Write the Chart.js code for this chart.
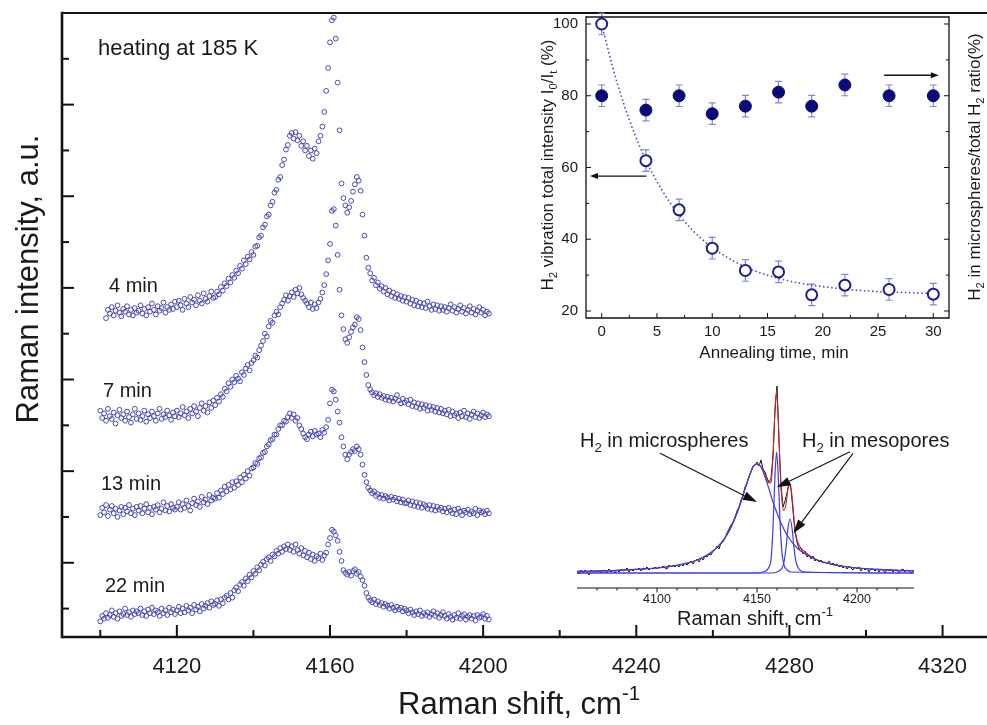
<!DOCTYPE html>
<html>
<head>
<meta charset="utf-8">
<script src="https://cdn.jsdelivr.net/npm/chart.js@4/dist/chart.umd.min.js"></script>
<style>
  html, body { margin: 0; padding: 0; background: #fff; overflow: hidden; }
  #wrap { position: relative; width: 987px; height: 725px; overflow: hidden; background: #fff; }
  canvas { position: absolute; }
  #main { left: 0; top: 0; width: 1010px; height: 725px; }
  #kin  { left: 500px; top: 0; width: 500px; height: 370px; }
  #fit  { left: 560px; top: 370px; width: 440px; height: 265px; }
</style>
</head>
<body>
<div id="wrap">
  <canvas id="main" width="1010" height="725"></canvas>
  <canvas id="kin" width="500" height="370"></canvas>
  <canvas id="fit" width="440" height="265"></canvas>
</div>
<script>
// ---------- Raman spectra recorded while heating at 185 K ----------
// sampled every 0.5 cm-1 starting at 4100 cm-1 (intensity in a.u., stacked)
const shiftStart = 4100;
const shiftStep = 0.5;

const spec4min = [
  null,null,null,267,276,272,279,270,275,281,273,269,277,274,280,271,276,270,278,273,
  275,281,272,277,270,279,274,283,276,271,280,275,278,284,273,279,276,282,277,285,
  279,286,281,276,288,283,279,290,284,287,281,292,286,283,294,288,285,291,296,289,
  290,296,293,301,297,305,302,310,306,314,311,319,316,324,321,330,326,334,331,339,
  336,345,346,355,357,366,369,378,380,390,394,404,407,418,421,434,440,451,456,466,
  469,463,470,461,466,455,460,450,455,444,450,441,452,447,460,466,476,492,515,540,
  568,592,595,572,524,472,414,398,390,382,388,395,405,413,421,417,406,380,357,333,
  322,316,308,311,303,306,299,302,296,300,293,297,291,295,289,293,288,291,286,290,
  285,289,283,287,281,286,280,284,279,283,278,285,280,276,282,277,281,275,280,276,
  279,274,278,282,275,279,273,277,281,274,278,272,276,280,273,277,271,275,279,273,
  276,270,274,272
];
const spec7min = [
  166,158,163,155,168,160,157,164,152,161,167,158,162,155,165,159,153,162,168,157,
  163,156,160,166,154,162,158,165,160,155,163,168,157,162,159,166,161,156,164,160,
  166,159,163,170,161,165,158,168,163,171,165,160,169,174,166,171,164,175,169,177,
  172,180,176,184,181,190,187,196,192,200,197,204,201,198,208,205,212,216,210,218,
  221,226,224,232,237,242,250,247,258,264,262,270,274,271,279,283,287,292,286,291,
  295,290,298,294,300,293,289,286,283,279,284,277,282,278,284,288,295,303,315,330,
  348,384,386,368,336,298,270,255,244,240,246,252,257,260,268,266,254,235,219,205,
  194,189,186,183,185,181,184,180,182,178,181,177,180,176,179,183,177,174,179,175,
  177,173,178,171,175,170,174,168,173,169,172,166,171,167,170,165,169,164,168,163,
  166,162,167,160,165,161,163,158,164,160,166,159,163,157,162,165,159,163,158,161,
  164,159,162,160
];
const spec13min = [
  52,60,55,63,51,58,62,54,59,50,57,61,53,60,56,63,54,59,52,61,
  57,62,54,59,64,55,60,53,61,58,63,55,59,66,57,62,56,64,60,58,
  61,66,58,64,60,68,62,57,65,70,63,67,61,72,66,69,64,74,68,71,
  70,76,71,79,75,83,78,85,80,88,82,89,85,93,88,96,92,100,95,103,
  104,109,108,114,115,120,121,127,129,134,135,140,140,146,150,150,155,154,159,163,
  158,162,155,158,150,146,141,137,135,140,143,138,144,140,141,137,145,142,148,156,
  174,189,187,178,165,153,137,127,118,113,118,121,124,122,127,124,118,107,96,88,
  82,79,76,78,73,75,71,74,70,73,71,68,72,69,71,67,70,66,69,65,
  65,68,63,67,62,66,61,65,60,64,62,59,63,58,62,57,61,58,60,56,
  59,55,60,57,54,58,53,59,56,52,57,55,58,53,56,54,59,52,57,55,
  56,53,57,54
];
const spec22min = [
  -64,-58,-61,-55,-60,-57,-52,-59,-55,-61,-53,-58,-56,-50,-57,-54,-59,-52,-56,-53,
  -55,-50,-57,-53,-58,-51,-55,-49,-56,-52,-54,-58,-50,-55,-52,-57,-49,-54,-51,-56,
  -52,-48,-55,-50,-54,-47,-52,-49,-55,-46,-51,-48,-53,-45,-50,-47,-44,-49,-42,-46,
  -45,-41,-47,-40,-44,-38,-36,-40,-33,-38,-30,-27,-31,-24,-21,-25,-17,-20,-13,-16,
  -9,-12,-5,-8,-2,1,-3,4,6,2,9,7,13,10,16,12,18,15,20,14,
  18,12,20,14,10,16,8,13,6,11,4,9,2,7,5,10,3,8,11,20,
  27,36,34,30,24,12,2,-8,-11,-13,-10,-14,-9,-7,-12,-10,-15,-19,-25,-33,
  -38,-41,-43,-40,-45,-42,-46,-44,-48,-45,-47,-50,-46,-49,-52,-48,-51,-49,-53,-50,
  -52,-55,-51,-54,-57,-53,-56,-52,-58,-55,-57,-54,-59,-56,-53,-58,-55,-60,-57,-54,
  -58,-61,-56,-59,-62,-57,-60,-55,-61,-58,-56,-62,-59,-57,-61,-58,-63,-57,-60,-59,
  -56,-61,-58,-62
];
const mainXLabels = [4120, 4160, 4200, 4240, 4280, 4320];
const mainXMinor = [4100, 4140, 4180, 4220, 4260, 4300];
const mainYMajor = [0, 100, 200, 300, 400, 500];
const mainYMinor = [-50, 50, 150, 250, 350, 450, 550];

// ---------- annealing kinetics ----------
const annealTime = [0, 4, 7, 10, 13, 16, 19, 22, 26, 30];
const totalIntensityPct = [100, 61.9, 48.2, 37.5, 31.3, 30.9, 24.5, 27.2, 26.0, 24.7];
const totalIntensityErr = [3, 3, 3, 3, 3, 3, 3, 3, 3, 3];
const microRatioPct = [80, 76, 80, 75, 77.1, 81, 77.1, 83, 80, 80];
const microRatioErr = [3, 3, 3, 3, 3, 3, 3, 3, 3, 3];
const decayFitTime = [0, 1, 2, 3, 4, 5, 6, 7, 8, 9, 10, 12, 14, 16, 18, 20, 22, 24, 26, 28, 30];
const decayFitPct = [100, 87.9, 77.7, 69.2, 62.0, 56.1, 51.0, 46.8, 43.2, 40.2, 37.7, 33.8, 31.0, 29.1, 27.7, 26.8, 26.1, 25.6, 25.3, 25.1, 24.9];
const kinXLabels = [0, 5, 10, 15, 20, 25, 30];
const kinXMinor = [2.5, 7.5, 12.5, 17.5, 22.5, 27.5];
const kinYLabels = [20, 40, 60, 80, 100];
const kinYMinor = [30, 50, 70, 90];

// ---------- deconvoluted spectrum ----------
const fitShiftStart = 4060;   // measured trace, 1 cm-1 step
const measured = [
  2,-1,3,0,3,1,-2,3,1,2,
  1,3,0,3,2,0,4,1,3,0,
  3,1,4,2,3,5,1,4,2,4,
  3,5,2,5,4,6,3,5,4,6,
  4,6,5,7,5,4,8,6,8,6,
  8,6,9,7,10,8,10,12,9,12,
  14,11,15,13,17,16,19,18,22,23,
  27,24,30,31,35,40,44,48,51,56,
  62,66,73,77,86,90,97,101,107,108,
  111,107,113,104,101,95,91,94,118,162,
  187,132,88,66,72,80,91,84,62,41,
  31,24,25,19,22,16,18,14,17,12,
  14,11,13,10,11,9,12,8,10,8,
  9,6,8,5,7,4,7,5,3,6,
  4,6,2,5,3,5,1,4,4,2,
  4,1,4,3,0,4,2,4,1,3,
  3,0,3,4,1,3,2,0,2
];
const broadShift = [4060,4070,4080,4090,4100,4110,4115,4120,4125,4130,4135,4138,4140,4142,4144,4146,4148,4150,4152,4154,4156,4158,4160,4162,4165,4170,4175,4180,4190,4200,4210,4220,4228.5];
const broadBand  = [1.6,2.0,2.6,3.6,5.0,7.7,9.8,13.0,17.6,25.4,38.2,50,60,71,84,96,106,109,106,96,84,71,60,50,38,25,18,13,7.7,5.0,3.6,2.6,2.1];
const narrowAShift = [4060,4150,4153,4155,4156,4157,4158,4159,4159.8,4160.6,4161.5,4162.5,4163.5,4165,4167,4228.5];
const narrowABand  = [0,0,1,3,6,13,45,98,121,98,52,20,8,3,1,0];
const narrowBShift = [4060,4158,4161,4162.5,4163.5,4164.5,4165.5,4166.5,4167.5,4168.5,4169.5,4171,4174,4228.5];
const narrowBBand  = [0,0,2,5,11,25,45,54,45,25,11,4,1,0];
const envelopeShift = [4060,4070,4080,4090,4100,4110,4120,4130,4135,4140,4144,4148,4150,4152,4154,4155,4156,4157,4158,4159,4159.8,4160.6,4161.5,4162.5,4163.5,4164.5,4165.5,4166.5,4167.5,4168.5,4169.5,4171,4174,4180,4190,4200,4210,4220,4228.5];
const envelope = [1.6,2.0,2.6,3.6,5.0,7.7,13,25.4,38.2,60,84,106,109,106.5,98,93,90,90.5,116,164,182,156,106,72,62.5,69,84,89.5,77.4,54.5,38,28,21,13,7.7,5.0,3.6,2.6,2.1];
const fitXLabels = [4100, 4150, 4200];
const fitXMinor = [4070,4080,4090,4110,4120,4130,4140,4160,4170,4180,4190,4210,4220];

// ---------- helpers ----------
const FONT = '"Liberation Sans", Arial, Helvetica, sans-serif';
Chart.defaults.font.family = FONT;
Chart.defaults.color = '#1a1a1a';
Chart.defaults.animation = false;

function series(values, start, step) {
  const pts = [];
  values.forEach((v, i) => { if (v !== null) pts.push({ x: start + i * step, y: v }); });
  return pts;
}
function pairs(xs, ys) { return xs.map((x, i) => ({ x, y: ys[i] })); }
function fixedTicks(values) { return s => { s.ticks = values.map(v => ({ value: v })); }; }

// text with sub/superscripts: segs are strings or [text, 'sub'|'sup']
function drawRich(ctx, it) {
  ctx.save();
  ctx.translate(it.x, it.y);
  if (it.rotate) ctx.rotate(it.rotate);
  ctx.fillStyle = it.color || '#1a1a1a';
  ctx.textBaseline = 'alphabetic';
  ctx.textAlign = 'left';
  const parts = it.segs.map(s => Array.isArray(s) ? { t: s[0], k: s[1] } : { t: s, k: null });
  const fontOf = p => `${p.k ? it.size * 0.66 : it.size}px ${FONT}`;
  let w = 0;
  parts.forEach(p => { ctx.font = fontOf(p); w += ctx.measureText(p.t).width; });
  let cx = it.align === 'center' ? -w / 2 : it.align === 'right' ? -w : 0;
  parts.forEach(p => {
    ctx.font = fontOf(p);
    const dy = p.k === 'sub' ? it.size * 0.24 : p.k === 'sup' ? -it.size * 0.45 : 0;
    ctx.fillText(p.t, cx, dy);
    cx += ctx.measureText(p.t).width;
  });
  ctx.restore();
}

function arrow(ctx, x1, y1, x2, y2, len, half, lw) {
  const a = Math.atan2(y2 - y1, x2 - x1);
  const bx = x2 - len * Math.cos(a), by = y2 - len * Math.sin(a);
  ctx.lineWidth = lw;
  ctx.beginPath(); ctx.moveTo(x1, y1); ctx.lineTo(bx, by); ctx.stroke();
  ctx.beginPath();
  ctx.moveTo(x2, y2);
  ctx.lineTo(bx + half * Math.sin(a), by - half * Math.cos(a));
  ctx.lineTo(bx - half * Math.sin(a), by + half * Math.cos(a));
  ctx.closePath(); ctx.fill();
}

// frame lines, tick marks, error bars, arrows and captions
const decor = {
  id: 'decor',
  beforeDatasetsDraw(chart, args, o) {
    const ctx = chart.ctx;
    (o.errorBars || []).forEach(eb => {
      const xs = chart.scales[eb.xScale], ys = chart.scales[eb.yScale];
      ctx.save(); ctx.strokeStyle = eb.color; ctx.lineWidth = eb.width;
      eb.x.forEach((xv, i) => {
        const px = xs.getPixelForValue(xv);
        const top = ys.getPixelForValue(eb.y[i] + eb.err[i]);
        const bot = ys.getPixelForValue(eb.y[i] - eb.err[i]);
        ctx.beginPath();
        ctx.moveTo(px, top); ctx.lineTo(px, bot);
        ctx.moveTo(px - eb.cap, top); ctx.lineTo(px + eb.cap, top);
        ctx.moveTo(px - eb.cap, bot); ctx.lineTo(px + eb.cap, bot);
        ctx.stroke();
      });
      ctx.restore();
    });
  },
  afterDraw(chart, args, o) {
    const ctx = chart.ctx, a = chart.chartArea;
    ctx.save();
    ctx.strokeStyle = o.lineColor || '#111';
    ctx.lineCap = 'butt';
    (o.frame || []).forEach(f => {
      ctx.lineWidth = f.width;
      ctx.beginPath();
      if (f.side === 'left') { ctx.moveTo(a.left, a.top - f.width / 2); ctx.lineTo(a.left, a.bottom + f.width / 2); }
      if (f.side === 'right') { ctx.moveTo(a.right, a.top - f.width / 2); ctx.lineTo(a.right, a.bottom + f.width / 2); }
      if (f.side === 'top') { ctx.moveTo(a.left, a.top); ctx.lineTo(f.toEdge ? chart.width : a.right, a.top); }
      if (f.side === 'bottom') { ctx.moveTo(a.left - (f.ext || 0), a.bottom); ctx.lineTo(f.toEdge ? chart.width : a.right, a.bottom); }
      ctx.stroke();
    });
    (o.marks || []).forEach(m => {
      const sc = chart.scales[m.scale];
      ctx.lineWidth = m.width;
      m.values.forEach(v => {
        const p = sc.getPixelForValue(v);
        ctx.beginPath();
        if (sc.isHorizontal()) {
          const y0 = m.edge === 'top' ? a.top : a.bottom;
          ctx.moveTo(p, y0); ctx.lineTo(p, y0 + m.dir * m.len);
        } else {
          const x0 = m.edge === 'right' ? a.right : a.left;
          ctx.moveTo(x0, p); ctx.lineTo(x0 + m.dir * m.len, p);
        }
        ctx.stroke();
      });
    });
    (o.arrows || []).forEach(ar => {
      const xs = chart.scales[ar.xScale], ys = chart.scales[ar.yScale];
      ctx.strokeStyle = '#111'; ctx.fillStyle = '#111';
      arrow(ctx, xs.getPixelForValue(ar.from[0]), ys.getPixelForValue(ar.from[1]),
                 xs.getPixelForValue(ar.to[0]), ys.getPixelForValue(ar.to[1]), ar.len, ar.half, ar.width);
    });
    ctx.restore();
    (o.texts || []).forEach(t => drawRich(ctx, t));
  }
};

// ---------- main stacked spectra ----------
const ptStyle = { showLine: false, pointRadius: 2.4, pointBorderWidth: 1, borderColor: '#4747b6', backgroundColor: 'rgba(0,0,0,0)', pointBackgroundColor: 'rgba(0,0,0,0)' };
new Chart(document.getElementById('main'), {
  type: 'scatter',
  data: {
    datasets: [
      { label: '4 min', data: series(spec4min, shiftStart, shiftStep), ...ptStyle },
      { label: '7 min', data: series(spec7min, shiftStart, shiftStep), ...ptStyle },
      { label: '13 min', data: series(spec13min, shiftStart, shiftStep), ...ptStyle },
      { label: '22 min', data: series(spec22min, shiftStart, shiftStep), ...ptStyle }
    ]
  },
  options: {
    responsive: false,
    devicePixelRatio: 1,
    layout: { padding: { top: 13, right: 10, left: 0, bottom: 0 } },
    plugins: {
      legend: { display: false }, tooltip: { enabled: false },
      decor: {
        frame: [ { side: 'top', width: 2, toEdge: true }, { side: 'left', width: 2.6 }, { side: 'bottom', width: 2.6, toEdge: true } ],
        marks: [
          { scale: 'x', values: mainXLabels, edge: 'bottom', dir: -1, len: 12, width: 2 },
          { scale: 'x', values: mainXMinor, edge: 'bottom', dir: -1, len: 7, width: 2 },
          { scale: 'y', values: mainYMajor, edge: 'left', dir: 1, len: 12, width: 2 },
          { scale: 'y', values: mainYMinor, edge: 'left', dir: 1, len: 7, width: 2 }
        ],
        texts: [
          { x: 38, y: 279, size: 31, rotate: -Math.PI / 2, align: 'center', segs: ['Raman intensity, a.u.'] },
          { x: 398, y: 714, size: 31, segs: ['Raman shift, cm', ['-1', 'sup']] },
          { x: 98, y: 55, size: 22, segs: ['heating at 185 K'] },
          { x: 109, y: 292, size: 20, segs: ['4 min'] },
          { x: 103, y: 397, size: 20, segs: ['7 min'] },
          { x: 101, y: 490, size: 20, segs: ['13 min'] },
          { x: 105, y: 592, size: 20, segs: ['22 min'] }
        ]
      }
    },
    scales: {
      x: {
        type: 'linear', min: 4090, max: 4335,
        afterBuildTicks: fixedTicks(mainXLabels),
        afterFit: s => { s.height = 88; },
        grid: { display: false, drawTicks: false },
        border: { display: false },
        ticks: { font: { size: 22 }, color: '#1a1a1a', padding: 17, maxRotation: 0, autoSkip: false, callback: v => String(v) }
      },
      y: {
        type: 'linear', min: -81, max: 600,
        afterFit: s => { s.width = 62; },
        grid: { display: false, drawTicks: false },
        border: { display: false },
        ticks: { display: false }
      }
    }
  },
  plugins: [decor]
});

// ---------- annealing kinetics (top-right) ----------
new Chart(document.getElementById('kin'), {
  type: 'scatter',
  data: {
    datasets: [
      { label: 'I0/It', data: pairs(annealTime, totalIntensityPct), yAxisID: 'y', order: 1,
        pointRadius: 5.5, pointBorderWidth: 2, borderColor: '#1e1e8e', pointBackgroundColor: '#ffffff', backgroundColor: '#ffffff' },
      { label: 'microspheres ratio', data: pairs(annealTime, microRatioPct), yAxisID: 'y2', order: 2,
        pointRadius: 6, pointBorderWidth: 1, borderColor: '#0b0b78', pointBackgroundColor: '#0b0b78', backgroundColor: '#0b0b78' },
      { label: 'decay fit', data: pairs(decayFitTime, decayFitPct), yAxisID: 'y', order: 3,
        showLine: true, pointRadius: 0, borderColor: '#4a4acb', borderWidth: 1.6, borderDash: [1.5, 2.6],
        cubicInterpolationMode: 'monotone', fill: false }
    ]
  },
  options: {
    responsive: false,
    devicePixelRatio: 1,
    layout: { padding: { top: 17, right: 0, left: 0, bottom: 0 } },
    plugins: {
      legend: { display: false }, tooltip: { enabled: false },
      decor: {
        errorBars: [
          { xScale: 'x', yScale: 'y', x: annealTime, y: totalIntensityPct, err: totalIntensityErr, color: '#8585d6', width: 1.2, cap: 3.5 },
          { xScale: 'x', yScale: 'y2', x: annealTime, y: microRatioPct, err: microRatioErr, color: '#8585d6', width: 1.2, cap: 3.5 }
        ],
        frame: [ { side: 'top', width: 1.3 }, { side: 'left', width: 1.3 }, { side: 'right', width: 1.3 }, { side: 'bottom', width: 1.3 } ],
        marks: [
          { scale: 'x', values: kinXLabels, edge: 'bottom', dir: -1, len: 5, width: 1 },
          { scale: 'x', values: kinXMinor, edge: 'bottom', dir: -1, len: 3, width: 1 },
          { scale: 'y', values: kinYLabels, edge: 'left', dir: 1, len: 5, width: 1 },
          { scale: 'y', values: kinYMinor, edge: 'left', dir: 1, len: 3, width: 1 },
          { scale: 'y2', values: kinYLabels, edge: 'right', dir: -1, len: 5, width: 1 },
          { scale: 'y2', values: kinYMinor, edge: 'right', dir: -1, len: 3, width: 1 }
        ],
        arrows: [
          { xScale: 'x', yScale: 'y', from: [4.05, 57.6], to: [-1.06, 57.6], len: 8, half: 3, width: 1.4 },
          { xScale: 'x', yScale: 'y', from: [25.55, 85.7], to: [30.5, 85.7], len: 8, half: 3, width: 1.4 }
        ],
        texts: [
          { x: 53, y: 165, size: 17, rotate: -Math.PI / 2, align: 'center',
            segs: ['H', ['2', 'sub'], ' vibration total intensity I', ['0', 'sub'], '/I', ['t', 'sub'], ' (%)'] },
          { x: 480, y: 167, size: 17, rotate: -Math.PI / 2, align: 'center',
            segs: ['H', ['2', 'sub'], ' in microspheres/total H', ['2', 'sub'], ' ratio(%)'] },
          { x: 274, y: 358, size: 17, align: 'center', segs: ['Annealing time, min'] }
        ]
      }
    },
    scales: {
      x: {
        type: 'linear', min: -1.42, max: 31.42,
        afterBuildTicks: fixedTicks(kinXLabels),
        afterFit: s => { s.height = 52; },
        grid: { display: false, drawTicks: false }, border: { display: false },
        ticks: { font: { size: 15 }, color: '#1a1a1a', padding: 5, maxRotation: 0, autoSkip: false, callback: v => String(v) }
      },
      y: {
        type: 'linear', position: 'left', min: 18.05, max: 101.95,
        afterBuildTicks: fixedTicks(kinYLabels),
        afterFit: s => { s.width = 86; },
        grid: { display: false, drawTicks: false }, border: { display: false },
        ticks: { font: { size: 15 }, color: '#1a1a1a', padding: 8, callback: v => String(v) }
      },
      y2: {
        type: 'linear', position: 'right', min: 18.05, max: 101.95,
        afterFit: s => { s.width = 51; },
        grid: { display: false, drawTicks: false }, border: { display: false },
        ticks: { display: false }
      }
    }
  },
  plugins: [decor]
});

// ---------- band decomposition (bottom-right) ----------
const thin = { showLine: true, pointRadius: 0, fill: false, cubicInterpolationMode: 'monotone' };
new Chart(document.getElementById('fit'), {
  type: 'scatter',
  data: {
    datasets: [
      { label: 'measured', data: series(measured, fitShiftStart, 1), ...thin, cubicInterpolationMode: 'default', tension: 0, borderColor: '#151515', borderWidth: 1, order: 4 },
      { label: 'envelope', data: pairs(envelopeShift, envelope), ...thin, borderColor: '#c8262a', borderWidth: 1.1, order: 3 },
      { label: 'microspheres', data: pairs(broadShift, broadBand), ...thin, borderColor: '#3b3bf0', borderWidth: 1.2, order: 2 },
      { label: 'mesopores A', data: pairs(narrowAShift, narrowABand), ...thin, borderColor: '#3b3bf0', borderWidth: 1.2, order: 1 },
      { label: 'mesopores B', data: pairs(narrowBShift, narrowBBand), ...thin, borderColor: '#3b3bf0', borderWidth: 1.2, order: 1 }
    ]
  },
  options: {
    responsive: false,
    devicePixelRatio: 1,
    layout: { padding: { top: 5, right: 86, left: 17, bottom: 0 } },
    plugins: {
      legend: { display: false }, tooltip: { enabled: false },
      decor: {
        frame: [ { side: 'bottom', width: 1.2 } ],
        marks: [
          { scale: 'x', values: fitXLabels, edge: 'bottom', dir: 1, len: 4.5, width: 1 },
          { scale: 'x', values: fitXMinor, edge: 'bottom', dir: 1, len: 2.5, width: 1 }
        ],
        arrows: [
          { xScale: 'x', yScale: 'y', from: [4101.5, 119.7], to: [4150, 71], len: 14, half: 4.5, width: 1.1 },
          { xScale: 'x', yScale: 'y', from: [4196.5, 121.3], to: [4159.8, 85.7], len: 14, half: 4.5, width: 1.1 },
          { xScale: 'x', yScale: 'y', from: [4198, 119.7], to: [4168.2, 39.7], len: 14, half: 4.5, width: 1.1 }
        ],
        texts: [
          { x: 20, y: 77, size: 20, segs: ['H', ['2', 'sub'], ' in microspheres'] },
          { x: 242, y: 77, size: 20, segs: ['H', ['2', 'sub'], ' in mesopores'] },
          { x: 117, y: 255, size: 20, segs: ['Raman shift, cm', ['-1', 'sup']] }
        ]
      }
    },
    scales: {
      x: {
        type: 'linear', min: 4060, max: 4228.5,
        afterBuildTicks: fixedTicks(fitXLabels),
        afterFit: s => { s.height = 47; },
        grid: { display: false, drawTicks: false }, border: { display: false },
        ticks: { font: { size: 12.5 }, color: '#1a1a1a', padding: 4, maxRotation: 0, autoSkip: false, callback: v => String(v) }
      },
      y: { type: 'linear', min: -15, max: 198, display: false }
    }
  },
  plugins: [decor]
});
</script>
</body>
</html>
